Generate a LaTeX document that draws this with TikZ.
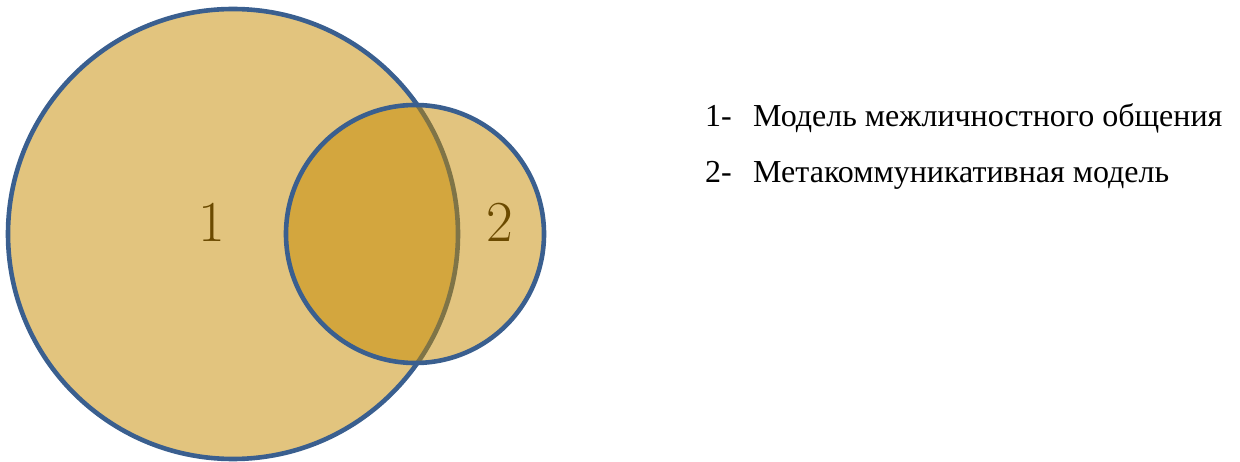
\documentclass[tikz,border=0pt]{standalone}
\usepackage{fontspec}
\newfontfamily\legendfont{Liberation Serif}
\definecolor{sandfill}{RGB}{226,196,126}
\definecolor{goldtint}{RGB}{197,137,0}
\definecolor{ringblue}{RGB}{58,95,143}
\definecolor{numbrown}{RGB}{107,74,0}
\tikzset{
  ring/.style={draw=ringblue, line width=4.6pt},
  setnum/.style={text=numbrown, inner sep=0pt, font=\fontsize{58}{58}\selectfont},
  legend/.style={inner sep=0pt, anchor=base west, font=\legendfont\fontsize{32}{32}\selectfont}
}
\begin{document}
\begin{tikzpicture}[x=1pt, y=-1pt]
  \useasboundingbox (0,0) rectangle (1240,462);
  % large set
  \fill[sandfill] (233,234) circle (225);
  \draw[ring] (233,234) circle (225);
  % small set, translucent over the large one
  \fill[goldtint, fill opacity=0.5] (415,234) circle (129);
  \draw[ring] (415,234) circle (129);
  % set numbers
  \node[setnum] (n1) at (212,222) {1};
  \node[setnum] (n2) at (500,222) {2};
  % legend
  \node[legend] (k1) at (705,127) {1-};
  \node[legend] (t1) at (753,127) {Модель межличностного общения};
  \node[legend] (k2) at (705,183) {2-};
  \node[legend] (t2) at (753,183) {Метакоммуникативная модель};
\end{tikzpicture}
\end{document}
